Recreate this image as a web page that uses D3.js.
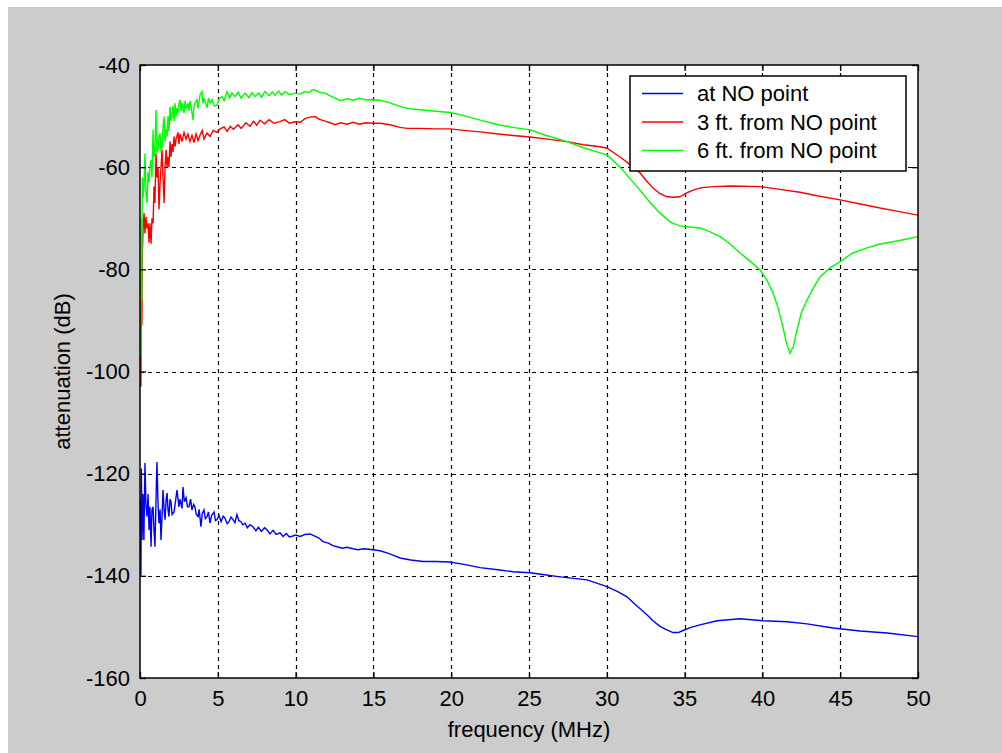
<!DOCTYPE html>
<html>
<head>
<meta charset="utf-8">
<script src="https://cdn.jsdelivr.net/npm/d3@7"></script>
<style>
  html, body { margin: 0; padding: 0; background: #ffffff; }
  svg { display: block; }
  text { font-family: "Liberation Sans", Arial, sans-serif; fill: #000; }
</style>
</head>
<body>
<svg id="chart" width="1002" height="753"></svg>
<script>
// ---------- data ----------
const xTicks = [0, 5, 10, 15, 20, 25, 30, 35, 40, 45, 50];
const yTicks = [-40, -60, -80, -100, -120, -140, -160];
const seriesNames = ["at NO point", "3 ft. from NO point", "6 ft. from NO point"];
const seriesColors = ["#0000ff", "#ff0000", "#00ff00"];

const blueFreq = [0.03,0.06,0.09,0.13,0.19,0.25,0.32,0.38,0.45,0.52,0.58,0.64,0.71,0.77,0.84,0.9,0.96,1.03,1.09,1.16,1.22,1.29,1.35,1.42,1.48,1.55,1.61,1.68,1.74,1.8,1.86,1.93,1.99,2.06,2.19,2.3,2.38,2.5,2.57,2.7,2.76,2.85,2.96,3.05,3.15,3.25,3.34,3.45,3.53,3.62,3.73,3.8,3.92,4.0,4.11,4.2,4.31,4.4,4.5,4.6,4.76,4.85,4.95,5.08,5.21,5.35,5.46,5.6,5.72,5.85,5.98,6.1,6.23,6.35,6.49,6.6,6.75,6.9,7.07,7.26,7.45,7.6,7.8,8.0,8.16,8.35,8.55,8.75,9.0,9.2,9.4,9.6,9.83,10.0,10.3,10.6,10.93,11.2,11.5,11.76,12.1,12.4,12.66,13.0,13.3,13.69,14.0,14.4,14.97,15.42,15.87,16.3,16.71,17.4,18.19,19.0,19.92,20.9,21.85,23.0,23.97,25.06,26.0,26.99,28.73,30.01,30.7,31.3,31.9,32.58,33.0,33.42,33.85,34.25,34.6,34.9,35.4,35.99,37.08,38.56,40.04,41.58,42.87,44.54,46.27,48.01,50.0];
const blueAtt = [-125,-140,-119,-133,-124,-133,-117.9,-126,-128.4,-124,-131,-126.5,-134.3,-127,-126.5,-131,-134.3,-125,-117.7,-126,-129.7,-127,-133,-128,-123.2,-127,-129,-125,-123.8,-127,-128.4,-125,-125.5,-128,-127.5,-125,-123.2,-126.5,-125,-126.8,-122.6,-125.5,-124.7,-126.5,-126.5,-125,-127.1,-126,-126.5,-128,-128.4,-127,-130.4,-127.8,-127.1,-128.8,-128.4,-127.5,-129.7,-128.2,-127.5,-129.2,-129,-128.2,-129.4,-128.3,-128.7,-129.8,-129.4,-128.5,-129,-129.6,-128,-129.2,-129.4,-130,-129.7,-130.6,-130,-130.4,-131.2,-130.5,-131.3,-130.6,-131,-131.8,-131.1,-131.9,-131.6,-132.3,-131.7,-132.4,-132.2,-132,-132.3,-131.9,-131.8,-132.2,-132.6,-133.3,-133.6,-134.1,-134.3,-134.6,-134.4,-134.7,-134.9,-134.7,-134.9,-135.1,-135.5,-136,-136.5,-136.9,-137.2,-137.2,-137.3,-137.8,-138.4,-138.8,-139.2,-139.4,-139.8,-140.2,-140.8,-142.1,-143.1,-144.1,-145.8,-147.6,-148.9,-149.9,-150.6,-151.1,-151.1,-150.7,-150.1,-149.6,-148.8,-148.4,-148.8,-149,-149.4,-150.2,-150.8,-151.2,-151.9];

const redFreq = [0.02,0.06,0.09,0.12,0.15,0.2,0.26,0.32,0.38,0.45,0.52,0.58,0.64,0.71,0.77,0.84,0.9,0.96,1.03,1.09,1.16,1.22,1.29,1.35,1.42,1.48,1.55,1.61,1.68,1.74,1.8,1.86,1.93,1.99,2.06,2.12,2.19,2.25,2.32,2.44,2.51,2.57,2.7,2.83,2.96,3.08,3.21,3.34,3.47,3.6,3.73,3.86,4.0,4.11,4.3,4.5,4.7,4.95,5.15,5.4,5.6,5.8,6.0,6.3,6.5,6.8,7.07,7.3,7.5,7.71,8.0,8.3,8.6,9.0,9.3,9.6,9.96,10.3,10.6,10.93,11.25,11.5,11.89,12.2,12.53,12.9,13.3,13.7,14.1,14.5,14.97,15.42,16.07,16.7,17.16,18.0,19.0,19.92,20.8,21.85,23.0,23.97,25.06,26.2,27.44,28.5,29.56,30.01,30.85,31.5,32.13,32.5,32.97,33.42,33.87,34.3,34.7,35.1,35.54,36.1,36.83,38.0,39.85,41.0,42.42,43.5,44.99,46.3,47.56,48.8,50.0];
const redAtt = [-84,-103,-80,-91,-77,-72,-69,-73,-69.7,-72,-71,-74.8,-71,-75,-70,-71,-63.8,-67,-57.3,-62,-60,-68.3,-63.2,-60,-56.6,-62,-67,-60,-56.6,-60,-58,-60,-55,-58,-55.5,-57,-54,-56,-54.5,-53.2,-55.5,-53.5,-55,-53.2,-54.5,-53.5,-55,-53.8,-55.2,-53.5,-54.8,-53.7,-52.8,-54.5,-53.3,-54,-52.8,-53.2,-52.5,-52.1,-53,-52,-52.6,-51.7,-52.4,-51.3,-52,-51,-51.8,-50.8,-51.5,-50.7,-51.4,-51.1,-50.7,-51.4,-51.1,-51.2,-50.5,-50.2,-50.1,-50.6,-51,-51.3,-51.7,-51.3,-51.6,-51.2,-51.6,-51.3,-51.4,-51.4,-51.7,-52.2,-52.4,-52.4,-52.5,-52.5,-52.8,-53.1,-53.5,-53.8,-54.1,-54.5,-55,-55.6,-56,-56.3,-58,-59.5,-61.1,-62.5,-64.1,-65.2,-65.8,-65.9,-65.8,-65.1,-64.5,-64,-63.8,-63.7,-63.8,-64.3,-64.9,-65.6,-66.4,-67.2,-68,-68.7,-69.4];

const greenFreq = [0.02,0.05,0.08,0.11,0.15,0.19,0.25,0.32,0.38,0.45,0.52,0.58,0.64,0.71,0.77,0.84,0.9,0.96,1.03,1.09,1.16,1.22,1.29,1.35,1.42,1.48,1.55,1.61,1.68,1.74,1.8,1.86,1.93,1.99,2.06,2.12,2.19,2.25,2.32,2.38,2.44,2.51,2.57,2.64,2.7,2.83,2.9,2.96,3.08,3.15,3.21,3.3,3.41,3.47,3.53,3.66,3.73,3.86,3.98,4.05,4.11,4.31,4.4,4.5,4.63,4.76,4.95,5.1,5.27,5.4,5.59,5.75,5.9,6.11,6.3,6.5,6.75,7.0,7.2,7.39,7.6,7.8,8.03,8.3,8.5,8.68,8.9,9.1,9.32,9.6,9.96,10.3,10.6,10.9,11.05,11.25,11.5,11.89,12.2,12.53,12.9,13.3,13.7,14.1,14.5,14.97,15.42,16.07,16.5,17.16,17.8,18.5,19.2,19.92,20.8,21.85,23.0,23.97,25.06,26.0,27.44,28.5,29.56,30.01,30.85,31.5,32.13,32.8,33.42,34.1,34.7,35.3,35.99,36.6,37.28,37.9,38.56,39.2,39.85,40.3,40.68,41.0,41.32,41.55,41.77,42.0,42.22,42.5,42.87,43.3,43.7,44.3,44.99,45.8,46.72,47.5,48.39,49.2,50.0];
const greenAtt = [-80,-97,-70,-86,-62,-66,-64,-57.3,-65,-67,-61,-63,-60,-58.6,-62,-52.7,-58,-56.6,-48.8,-57,-56.6,-54,-53.4,-57,-56,-52,-50.1,-55,-52.7,-54,-50,-53,-48.2,-51,-50.1,-48,-51,-47.5,-50,-48.5,-49.4,-47.5,-46.8,-49,-47.5,-49.4,-47,-48.5,-47.5,-49,-47,-48.5,-50.8,-48,-47.5,-46.8,-48.5,-45.8,-45.2,-47.5,-46.5,-48.4,-46.5,-47.5,-46.8,-48,-47.8,-46.5,-46.2,-47,-45.2,-46.5,-45.5,-46.2,-45.3,-46.5,-45.5,-46.4,-45.4,-46.2,-45.5,-46.3,-45.2,-46,-45.3,-45.9,-45.1,-45.9,-45.2,-45.8,-45.5,-45.7,-45.2,-45.4,-44.9,-44.9,-45.3,-45.5,-46,-46.5,-47,-46.6,-46.9,-46.5,-46.8,-46.8,-46.9,-47.4,-47.9,-48.5,-48.7,-48.9,-49.1,-49.3,-49.9,-50.8,-51.7,-52.2,-52.7,-53.7,-55,-56.2,-57.2,-57.6,-60,-62.3,-64.5,-67,-69,-70.8,-71.5,-71.7,-71.9,-72.6,-73.6,-75,-76.8,-78.4,-80.1,-82.2,-84.6,-87.5,-91.3,-94.5,-96.4,-95,-91.9,-88.5,-86,-83.5,-81.5,-79.8,-78.5,-76.8,-75.8,-75.1,-74.6,-74.1,-73.6];

// ---------- layout ----------
const svg = d3.select("#chart");
const W = 1002, H = 753;
const plot = { left: 140, top: 65, right: 918, bottom: 678 };

svg.append("rect").attr("x", 8).attr("y", 7).attr("width", W - 8).attr("height", H - 7).attr("fill", "#cccccc");

const x = d3.scaleLinear().domain([0, 50]).range([plot.left, plot.right]);
const y = d3.scaleLinear().domain([-160, -40]).range([plot.bottom, plot.top]);

svg.append("rect").attr("x", plot.left).attr("y", plot.top)
  .attr("width", plot.right - plot.left).attr("height", plot.bottom - plot.top)
  .attr("fill", "#ffffff");

// grid
const grid = svg.append("g").attr("stroke", "#000").attr("stroke-width", 1.2).attr("stroke-dasharray", "4,4");
grid.selectAll(".vg").data(xTicks.slice(1, -1)).join("line")
  .attr("x1", d => Math.round(x(d)) + 0.5).attr("x2", d => Math.round(x(d)) + 0.5)
  .attr("y1", plot.top).attr("y2", plot.bottom);
grid.selectAll(".hg").data(yTicks.slice(1, -1)).join("line")
  .attr("y1", d => Math.round(y(d)) + 0.5).attr("y2", d => Math.round(y(d)) + 0.5)
  .attr("x1", plot.left).attr("x2", plot.right);

// series
svg.append("clipPath").attr("id", "clip").append("rect")
  .attr("x", plot.left).attr("y", plot.top)
  .attr("width", plot.right - plot.left).attr("height", plot.bottom - plot.top);

const series = [
  { f: blueFreq, v: blueAtt },
  { f: redFreq, v: redAtt },
  { f: greenFreq, v: greenAtt }
];
const line = d3.line().x(d => x(d[0])).y(d => y(d[1]));
const lines = svg.append("g").attr("clip-path", "url(#clip)");
series.forEach((s, i) => {
  const pts = s.f.map((f, k) => [f, s.v[k]]);
  lines.append("path").datum(pts).attr("d", line)
    .attr("fill", "none").attr("stroke", seriesColors[i]).attr("stroke-width", 1.4)
    .attr("stroke-linejoin", "miter");
});

// axes (ticks inside on all four sides)
const tickLen = 6;
const axisFont = "22px";
const bottomAxis = d3.axisBottom(x).tickValues(xTicks).tickSize(-tickLen).tickPadding(12).tickFormat(d3.format("d"));
const topAxis = d3.axisTop(x).tickValues(xTicks).tickSize(-tickLen).tickFormat("");
const leftAxis = d3.axisLeft(y).tickValues(yTicks).tickSize(-tickLen).tickPadding(10).tickFormat(d => d3.format("d")(d).replace("−", "-"));
const rightAxis = d3.axisRight(y).tickValues(yTicks).tickSize(-tickLen).tickFormat("");

function styleAxis(g) {
  g.select(".domain").remove();
  g.selectAll(".tick line").attr("stroke", "#000").attr("stroke-width", 1.3);
  g.selectAll("text").attr("font-size", axisFont).attr("fill", "#000")
    .attr("font-family", "'Liberation Sans', Arial, sans-serif");
}
svg.append("g").attr("transform", `translate(0,${plot.bottom})`).call(bottomAxis).call(styleAxis);
svg.append("g").attr("transform", `translate(0,${plot.top})`).call(topAxis).call(styleAxis);
svg.append("g").attr("transform", `translate(${plot.left},0)`).call(leftAxis).call(styleAxis);
svg.append("g").attr("transform", `translate(${plot.right},0)`).call(rightAxis).call(styleAxis);

// frame
svg.append("rect").attr("x", plot.left).attr("y", plot.top)
  .attr("width", plot.right - plot.left).attr("height", plot.bottom - plot.top)
  .attr("fill", "none").attr("stroke", "#000").attr("stroke-width", 1.5);

// axis labels
svg.append("text").attr("x", (plot.left + plot.right) / 2).attr("y", 737)
  .attr("text-anchor", "middle").attr("font-size", axisFont).text("frequency (MHz)");
svg.append("text").attr("transform", `translate(70,${(plot.top + plot.bottom) / 2}) rotate(-90)`)
  .attr("text-anchor", "middle").attr("font-size", axisFont).text("attenuation (dB)");

// legend
const leg = { x: 630, y: 76, w: 276, h: 95 };
svg.append("rect").attr("x", leg.x).attr("y", leg.y).attr("width", leg.w).attr("height", leg.h)
  .attr("fill", "#ffffff").attr("stroke", "#000").attr("stroke-width", 1.5);
const legRows = [93.5, 122, 150.5];
seriesNames.forEach((name, i) => {
  svg.append("line").attr("x1", 642).attr("x2", 683).attr("y1", legRows[i]).attr("y2", legRows[i])
    .attr("stroke", seriesColors[i]).attr("stroke-width", 1.3);
  svg.append("text").attr("x", 697).attr("y", legRows[i]).attr("dy", "0.36em")
    .attr("font-size", axisFont).text(name);
});
</script>
</body>
</html>
